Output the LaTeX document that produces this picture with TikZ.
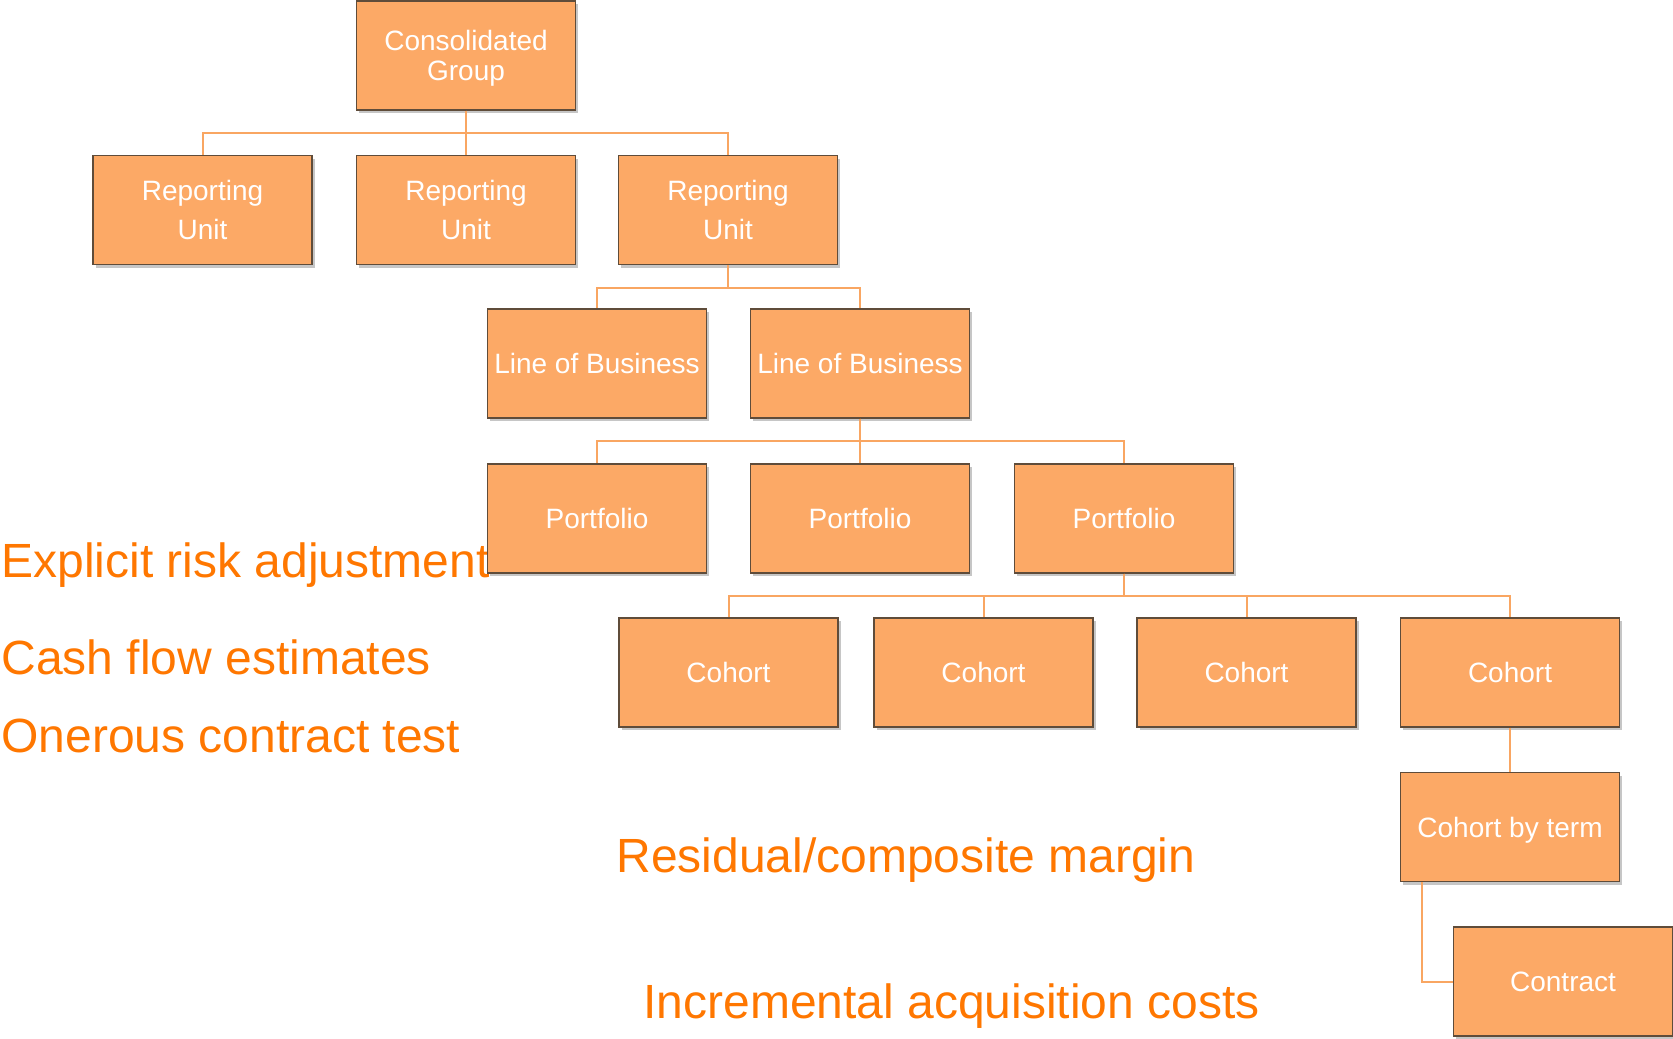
\documentclass[tikz,border=0pt]{standalone}
\usepackage{fontspec}
\setmainfont{Liberation Sans}
\usetikzlibrary{shadows}
\definecolor{boxfill}{RGB}{252,169,102}
\definecolor{boxline}{RGB}{95,76,58}
\definecolor{linkline}{RGB}{249,166,98}
\definecolor{notetext}{RGB}{255,119,0}
\begin{document}
\begin{tikzpicture}[x=0.5pt,y=-0.5pt,
  unit/.style={draw=boxline, line width=0.6pt, fill=boxfill,
    minimum width=109.5pt, minimum height=54.5pt, inner sep=0pt,
    text=white, align=center, font=\fontsize{14}{15}\selectfont,
    drop shadow={shadow xshift=1.3pt, shadow yshift=-1.6pt, fill=black!50, opacity=0.45}},
  oneline/.style={unit, text height=10pt, text depth=0pt},
  link/.style={draw=linkline, line width=1pt},
  note/.style={text=notetext, font=\fontsize{24}{28}\selectfont, inner sep=0pt, anchor=base west}]
\useasboundingbox (0,0) rectangle (1673,1038);

% side notes
\node[note] (era) at (1,577)   {Explicit risk adjustment};
\node[note] (cfe) at (1,674)   {Cash flow estimates};
\node[note] (oct) at (1,752)   {Onerous contract test};
\node[note] (rcm) at (616,872) {Residual/composite margin};
\node[note] (iac) at (643,1018) {Incremental acquisition costs};

% hierarchy boxes
\node[unit] (cg) at (466,55.5) {Consolidated\\\smash{Group}};

\node[unit] (ru1) at (202.5,210) {Reporting\\[4.5pt]Unit};
\node[unit] (ru2) at (466,210)   {Reporting\\[4.5pt]Unit};
\node[unit] (ru3) at (728,210)   {Reporting\\[4.5pt]Unit};

\node[oneline] (lob1) at (597,363.5) {Line of Business};
\node[oneline] (lob2) at (860,363.5) {Line of Business};

\node[oneline] (pf1) at (597,518.5)  {Portfolio};
\node[oneline] (pf2) at (860,518.5)  {Portfolio};
\node[oneline] (pf3) at (1124,518.5) {Portfolio};

\node[oneline] (co1) at (728.5,672.5)  {Cohort};
\node[oneline] (co2) at (983.5,672.5)  {Cohort};
\node[oneline] (co3) at (1246.5,672.5) {Cohort};
\node[oneline] (co4) at (1510,672.5)   {Cohort};

\node[oneline] (cbt) at (1510,827) {Cohort by term};
\node[oneline] (ct)  at (1563,981.5) {Contract};

% connectors
\foreach \c in {ru1,ru2,ru3}
  \draw[link] (cg.south) -- ++(0,22.75) -| (\c.north);
\foreach \c in {lob1,lob2}
  \draw[link] (ru3.south) -- ++(0,22.75) -| (\c.north);
\foreach \c in {pf1,pf2,pf3}
  \draw[link] (lob2.south) -- ++(0,22.75) -| (\c.north);
\foreach \c in {co1,co2,co3,co4}
  \draw[link] (pf3.south) -- ++(0,22.75) -| (\c.north);
\draw[link] (co4.south) -- (cbt.north);
\draw[link] ([xshift=11pt]cbt.south west) |- (ct.west);
\end{tikzpicture}
\end{document}
